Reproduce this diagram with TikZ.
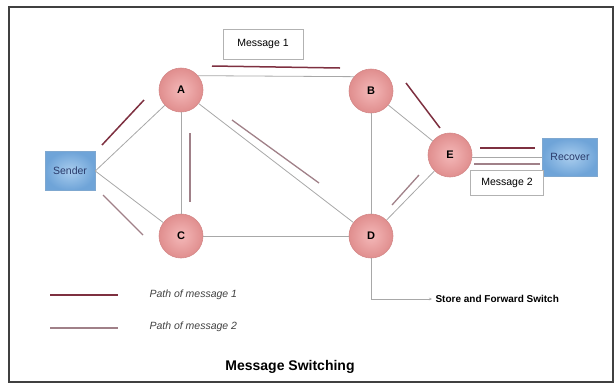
\documentclass[tikz,border=0pt]{standalone}
\usepackage{fontspec}
\setmainfont{Liberation Sans}
\usetikzlibrary{arrows.meta,calc}
\definecolor{circI}{HTML}{F4B8B8}
\definecolor{circO}{HTML}{E08E8E}
\definecolor{circB}{HTML}{D48888}
\definecolor{boxI}{HTML}{A9CDEE}
\definecolor{boxO}{HTML}{6FA4D8}
\definecolor{boxB}{HTML}{7FA8D0}
\definecolor{txtB}{HTML}{2A3A6A}
\definecolor{edgeC}{HTML}{A8A8A8}
\definecolor{mOneC}{HTML}{7E3040}
\definecolor{mTwoC}{HTML}{A08088}
\definecolor{frameC}{HTML}{404040}
\begin{document}
\begin{tikzpicture}[x=1pt,y=-1pt,
 sw/.style={circle,minimum size=44pt,inner sep=0pt,draw=circB,line width=0.6pt,inner color=circI,outer color=circO,font=\fontsize{11}{12}\selectfont\bfseries},
 term/.style={rectangle,minimum width=50pt,minimum height=39pt,inner sep=0pt,draw=boxB,line width=0.5pt,inner color=boxI,outer color=boxO,font=\fontsize{10.5}{12}\selectfont,text=txtB},
 lbl/.style={rectangle,draw=gray!60,line width=0.6pt,fill=white,inner sep=0pt,font=\fontsize{10.5}{12}\selectfont},
 edge/.style={draw=edgeC,line width=0.8pt},
 mone/.style={draw=mOneC,line width=1.5pt},
 mtwo/.style={draw=mTwoC,line width=1.3pt},
 legtext/.style={anchor=west,font=\fontsize{10.5}{12}\selectfont\itshape,text=black!75},
]
\useasboundingbox (0,0) rectangle (615,384);
\draw[frameC,line width=1.3pt] (9,7) rectangle (613,382);

% nodes
\node[sw] (A) at (181,90) {A};
\node[sw] (B) at (371,91) {B};
\node[sw] (E) at (450,155) {E};
\node[sw] (C) at (181,236) {C};
\node[sw] (D) at (371,236) {D};
\node[term] (S) at (70,171) {Sender};
\node[term,minimum width=55pt,minimum height=38pt] (R) at (570,157) {Recover};

% edges
\draw[edge] (S.east) -- (A);
\draw[edge] (S.east) -- (C);
\draw[edge] (A) -- (C);
\draw[edge] (A.40) -- (B.140);
\draw[edge] (A) -- (D);
\draw[edge] (B) -- (D);
\draw[edge] (B) -- (E);
\draw[edge] (C) -- (D);
\draw[edge] (D) -- (E);
\draw[edge] (E.east |- R.west) -- (R.west);

% labels
\node[lbl,minimum width=80pt,minimum height=30pt] (m1) at (263,44) {Message 1};
\node[lbl,minimum width=73pt,minimum height=25pt] (m2) at (507,183) {Message 2};

% path of message 1
\draw[mone] (102,145) -- (144,100);
\draw[mone] (212,66) -- (340,68);
\draw[mone] (406,83) -- (440,128);
\draw[mone] (480,148) -- (535,148);

% path of message 2
\draw[mtwo] (103,195) -- (143,235);
\draw[mtwo] (190,133) -- (190,202);
\draw[mtwo] (232,120) -- (319,183);
\draw[mtwo] (392,205) -- (419,175);
\draw[mtwo] (474,164) -- (540,164);

% legend
\draw[mone] (50,295) -- (118,295);
\node[legtext] (l1) at (146,295) {Path of message 1};
\draw[mtwo] (50,328) -- (118,328);
\node[legtext] (l2) at (146,327) {Path of message 2};

% store and forward
\node[anchor=west,font=\fontsize{10}{12}\selectfont\bfseries] (sf) at (432,299) {Store and Forward Switch};
\draw[edge,-{Stealth[length=3pt,width=2.5pt]}] (D.south) |- (sf.west);

% title
\node[font=\fontsize{14}{16}\selectfont\bfseries] (t) at (290,367) {Message Switching};
\end{tikzpicture}
\end{document}
